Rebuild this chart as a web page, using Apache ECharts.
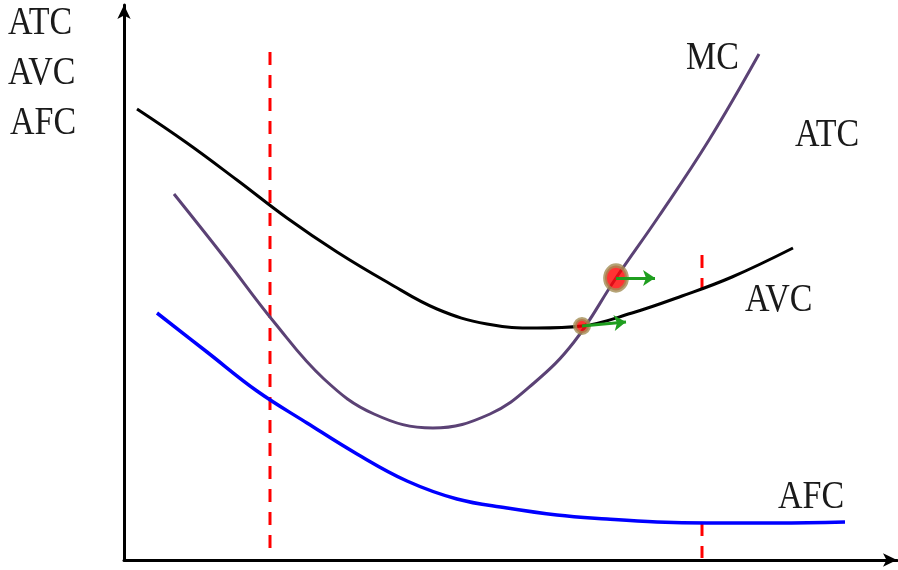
<!DOCTYPE html>
<html>
<head>
<meta charset="utf-8">
<script src="https://cdn.jsdelivr.net/npm/echarts@6/dist/echarts.min.js"></script>
<style>
  html, body { margin: 0; padding: 0; background: #fff; }
  #chart { width: 898px; height: 570px; }
</style>
</head>
<body>
<div id="chart"></div>
<script>
// units: quantity / cost
var atc = [[13,451],[63,417],[113,380],[163,342],[213,308],[263,278],[313,251],[363,236],[413,232],[458,234],[508,247],[558,264],[608,283],[669,312]];
var mc = [[50,366],[100,303],[150,238],[200,181],[250,146],[309,132],[366,146],[410,177],[450,218],[492,282],[535,344],[585,420],[635,506]];
var afc = [[33,247],[83,208],[133,169],[183,137],[233,106],[283,79],[333,61],[383,52],[433,45],[483,41],[533,38],[583,37],[653,37],[721,38]];
var dashLeft = [[146,508],[146,5]];
var dashRightTop = [[578,305],[578,270]];
var dashRightBottom = [[578,37],[578,2]];
var bigDot = [[492,282]];
var smallDot = [[458,234]];
var arrows = [
  [[492,282],[531,282]],
  [[458,234],[502,238]]
];

var chart = echarts.init(document.getElementById('chart'));

function label(txt, x, y) {
  return {
    type: 'text', left: x, top: y, scaleY: 1.15,
    style: { text: txt, fontFamily: 'Liberation Serif', fontSize: 34, fill: '#1a1a1a' }
  };
}

function dashLine(d) {
  return {
    type: 'line', data: d, symbol: 'none', silent: true,
    lineStyle: { color: '#ff0000', width: 3, type: [13, 10] }
  };
}

function curve(name, d, color, w) {
  return {
    name: name, type: 'line', data: d, smooth: 0.4, symbol: 'none',
    lineStyle: { color: color, width: w }
  };
}

var option = {
  animation: false,
  grid: { left: 124, top: 5, right: 1, bottom: 10 },
  xAxis: {
    type: 'value', min: 0, max: 773,
    splitLine: { show: false }, axisTick: { show: false }, axisLabel: { show: false },
    axisLine: { onZero: false, symbol: ['none', 'arrow'], symbolSize: [10, 14],
      lineStyle: { color: '#000', width: 3 } }
  },
  yAxis: {
    type: 'value', min: 0, max: 555,
    splitLine: { show: false }, axisTick: { show: false }, axisLabel: { show: false },
    axisLine: { onZero: false, symbol: ['none', 'arrow'], symbolSize: [10, 14],
      lineStyle: { color: '#000', width: 3 } }
  },
  series: [
    dashLine(dashLeft),
    dashLine(dashRightTop),
    dashLine(dashRightBottom),
    curve('AFC', afc, '#0000ff', 3.5),
    curve('ATC', atc, '#000000', 3),
    curve('MC', mc, '#5b4275', 3),
    {
      type: 'scatter', data: bigDot, symbolSize: [22, 25], z: 5,
      itemStyle: { color: '#ff0000', borderColor: '#a38d55', borderWidth: 4 }
    },
    {
      type: 'scatter', data: smallDot, symbolSize: 14, z: 5,
      itemStyle: { color: '#ff0000', borderColor: '#a38d55', borderWidth: 4 }
    },
    {
      type: 'lines', coordinateSystem: 'cartesian2d', z: 6,
      data: arrows.map(function (c) { return { coords: c }; }),
      symbol: ['none', 'arrow'], symbolSize: 12,
      lineStyle: { color: '#1f9e1f', width: 3, opacity: 1 }
    }
  ],
  graphic: [
    label('ATC', 8, 4),
    label('AVC', 8, 54),
    label('AFC', 10, 104),
    label('MC', 686, 39),
    label('ATC', 795, 116),
    label('AVC', 745, 281),
    label('AFC', 778, 478)
  ]
};
chart.setOption(option);
</script>
</body>
</html>
